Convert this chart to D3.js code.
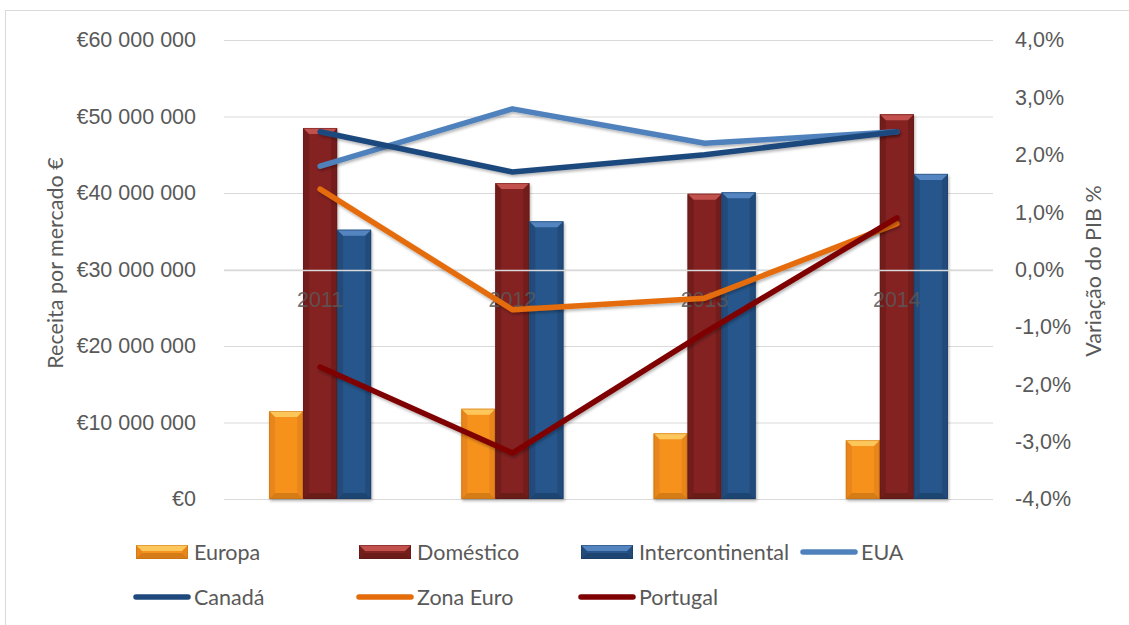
<!DOCTYPE html>
<html>
<head>
<meta charset="utf-8">
<script src="https://cdn.jsdelivr.net/npm/d3@7"></script>
<style>
  html, body { margin: 0; padding: 0; background: #ffffff; }
  svg { display: block; }
  text { font-family: Lato, "Open Sans", sans-serif; fill: #595959; }
</style>
</head>
<body>
<svg id="chart" width="1129" height="625"></svg>
<script>
// Categories (years)
const years = ["2011", "2012", "2013", "2014"];

// Revenue per market (€) – bar series
const europa = [11500000, 11800000, 8600000, 7700000];
const domestico = [48500000, 41300000, 39900000, 50300000];
const intercontinental = [35200000, 36300000, 40100000, 42500000];

// GDP change (%) – line series
const eua = [1.8, 2.8, 2.2, 2.4];
const canada = [2.4, 1.7, 2.0, 2.4];
const zonaEuro = [1.4, -0.7, -0.5, 0.8];
const portugal = [-1.7, -3.2, -1.1, 0.9];

// Axis ticks
const leftTicks = [0, 10000000, 20000000, 30000000, 40000000, 50000000, 60000000];
const rightTicks = [-4, -3, -2, -1, 0, 1, 2, 3, 4];

const barSeries = [
  { name: "Europa", values: europa, main: "#f6921e", light: "#fdc75c", dark: "#c06d12", side: "#e8861a" },
  { name: "Doméstico", values: domestico, main: "#842320", light: "#c2514d", dark: "#5a1614", side: "#731e1b" },
  { name: "Intercontinental", values: intercontinental, main: "#28568b", light: "#5585c0", dark: "#173a62", side: "#224c7c" }
];
const lineSeries = [
  { name: "EUA", values: eua, color: "#4f81bd" },
  { name: "Canadá", values: canada, color: "#1f497d" },
  { name: "Zona Euro", values: zonaEuro, color: "#e46c0a" },
  { name: "Portugal", values: portugal, color: "#7f0000" }
];

const FS = 21.5;
const svg = d3.select("#chart");
const plot = { left: 224, right: 993, top: 40, bottom: 499 };

// Chart frame
svg.append("rect").attr("x", 5.5).attr("y", 10.5).attr("width", 1140).attr("height", 640)
  .attr("fill", "none").attr("stroke", "#d9d9d9");

const x = d3.scaleBand().domain(years).range([plot.left, plot.right]);
const xBar = d3.scaleBand().domain(barSeries.map(s => s.name)).range([0, 102]);
const yL = d3.scaleLinear().domain([0, 60000000]).range([plot.bottom, plot.top]);
const yR = d3.scaleLinear().domain([-4, 4]).range([plot.bottom, plot.top]);

// Drop shadow for bars and lines
const defs = svg.append("defs");
const sh = defs.append("filter").attr("id", "shadow").attr("x", "-20%").attr("y", "-20%").attr("width", "140%").attr("height", "140%");
sh.append("feGaussianBlur").attr("in", "SourceAlpha").attr("stdDeviation", 1.6);
sh.append("feOffset").attr("dx", 1).attr("dy", 2).attr("result", "off");
sh.append("feComponentTransfer").append("feFuncA").attr("type", "linear").attr("slope", 0.3);
const mrg = sh.append("feMerge");
mrg.append("feMergeNode");
mrg.append("feMergeNode").attr("in", "SourceGraphic");

const fmtEuro = v => "€" + d3.format(",")(v).replace(/,/g, " ");
const fmtPct = v => d3.format(".1f")(v).replace(".", ",").replace("\u2212", "-") + "%";

// Gridlines
svg.append("g")
  .attr("transform", `translate(${plot.left},0)`)
  .call(d3.axisLeft(yL).tickValues(leftTicks).tickSize(-(plot.right - plot.left)).tickFormat(""))
  .call(g => g.select(".domain").remove())
  .call(g => g.selectAll("line").attr("stroke", "#d9d9d9"));

// Left tick labels
svg.append("g")
  .attr("transform", `translate(${plot.left},0)`)
  .call(d3.axisLeft(yL).tickValues(leftTicks).tickSize(0).tickPadding(28).tickFormat(fmtEuro))
  .call(g => g.select(".domain").remove())
  .call(g => g.selectAll("text").attr("font-size", FS).style("font-family", "inherit").attr("fill", "#595959"));

// Right tick labels
svg.append("g")
  .attr("transform", `translate(${plot.right},0)`)
  .call(d3.axisRight(yR).tickValues(rightTicks).tickSize(0).tickPadding(22).tickFormat(fmtPct))
  .call(g => g.select(".domain").remove())
  .call(g => g.selectAll("text").attr("font-size", FS).style("font-family", "inherit").attr("fill", "#595959"));

// Bevelled bars
function bevelBar(g, x0, w, yTop, yBot, s) {
  const b = 6;
  const h = yBot - yTop;
  const bb = Math.min(b, h / 2);
  g.append("rect").attr("x", x0).attr("y", yTop).attr("width", w).attr("height", h).attr("fill", s.main);
  g.append("polygon").attr("points", [[x0, yTop], [x0 + bb, yTop + bb], [x0 + bb, yBot - bb], [x0, yBot]].join(" "))
    .attr("fill", s.side);
  g.append("polygon").attr("points", [[x0 + w, yTop], [x0 + w - bb, yTop + bb], [x0 + w - bb, yBot - bb], [x0 + w, yBot]].join(" "))
    .attr("fill", s.side);
  g.append("polygon").attr("points", [[x0, yTop], [x0 + w, yTop], [x0 + w - bb, yTop + bb], [x0 + bb, yTop + bb]].join(" "))
    .attr("fill", s.light);
  g.append("polygon").attr("points", [[x0, yBot], [x0 + w, yBot], [x0 + w - bb, yBot - bb], [x0 + bb, yBot - bb]].join(" "))
    .attr("fill", s.dark).attr("opacity", 0.6);
  g.append("rect").attr("x", x0 + 0.5).attr("y", yTop + 0.5).attr("width", w - 1).attr("height", h - 1)
    .attr("fill", "none").attr("stroke", s.dark).attr("stroke-opacity", 0.45);
}

const barsG = svg.append("g");
years.forEach((yr, i) => {
  const gx = x(yr) + (x.bandwidth() - 102) / 2;
  barSeries.forEach(s => {
    const g = barsG.append("g").attr("filter", "url(#shadow)");
    bevelBar(g, gx + xBar(s.name), xBar.bandwidth(), yL(s.values[i]), yL(0), s);
  });
});

// Category axis line at 0%
svg.append("line")
  .attr("x1", plot.left).attr("x2", plot.right)
  .attr("y1", Math.round(yR(0)) + 0.5).attr("y2", Math.round(yR(0)) + 0.5)
  .attr("stroke", "#d9d9d9").attr("stroke-width", 1.5);

// Category labels along the 0% line
svg.append("g")
  .attr("transform", `translate(0,${yR(0)})`)
  .call(d3.axisBottom(x).tickSize(0).tickPadding(22))
  .call(g => g.select(".domain").remove())
  .call(g => g.selectAll("text").attr("font-size", FS).style("font-family", "inherit").attr("fill", "#595959").attr("fill-opacity", 0.85));

// GDP lines
const line = d3.line().x((d, i) => x(years[i]) + x.bandwidth() / 2).y(d => yR(d));
lineSeries.forEach(s => {
  svg.append("path").datum(s.values).attr("d", line)
    .attr("fill", "none").attr("stroke", s.color).attr("stroke-width", 5.5)
    .attr("stroke-linecap", "round").attr("stroke-linejoin", "round")
    .attr("filter", "url(#shadow)");
});

// Axis titles
svg.append("text").attr("transform", `translate(63,263) rotate(-90)`)
  .attr("text-anchor", "middle").attr("font-size", FS).text("Receita por mercado €");
svg.append("text").attr("transform", `translate(1101,271) rotate(-90)`)
  .attr("text-anchor", "middle").attr("font-size", FS).text("Variação do PIB %");

// Legend
const legendItems = [
  { name: "Europa", kind: "bar", s: barSeries[0], x: 136, y: 552 },
  { name: "Doméstico", kind: "bar", s: barSeries[1], x: 359, y: 552 },
  { name: "Intercontinental", kind: "bar", s: barSeries[2], x: 581, y: 552 },
  { name: "EUA", kind: "line", s: lineSeries[0], x: 803, y: 552 },
  { name: "Canadá", kind: "line", s: lineSeries[1], x: 136, y: 597 },
  { name: "Zona Euro", kind: "line", s: lineSeries[2], x: 359, y: 597 },
  { name: "Portugal", kind: "line", s: lineSeries[3], x: 581, y: 597 }
];
const lg = svg.append("g");
legendItems.forEach(it => {
  if (it.kind === "bar") {
    const g = lg.append("g");
    bevelBar(g, it.x, 52, it.y - 7, it.y + 7, it.s);
  } else {
    lg.append("line").attr("x1", it.x).attr("x2", it.x + 52).attr("y1", it.y).attr("y2", it.y)
      .attr("stroke", it.s.color).attr("stroke-width", 5.5).attr("stroke-linecap", "round");
  }
  lg.append("text").attr("x", it.x + 58).attr("y", it.y).attr("dy", "0.35em")
    .attr("font-size", FS).text(it.name);
});
</script>
</body>
</html>
